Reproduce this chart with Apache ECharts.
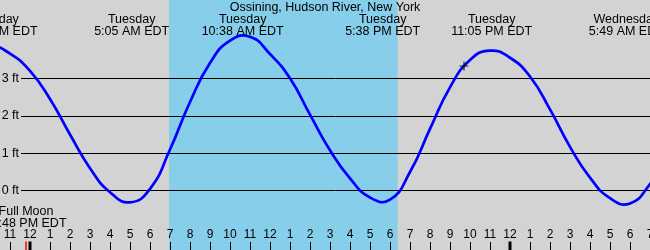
<!DOCTYPE html>
<html><head><meta charset="utf-8">
<script src="https://cdn.jsdelivr.net/npm/echarts@6/dist/echarts.min.js"></script>
<style>html,body{margin:0;padding:0;background:#d3d3d3}#c{width:650px;height:250px}</style>
</head><body><div id="c"></div>
<script>
// ---- data (hours measured from Tuesday 00:00 EDT) ----
const chartTitle = 'Ossining, Hudson River, New York';
const tideHours = [-3,-2,-1,0,1,2,3,4,5,6,7,8,9,10,11,12,13,14,15,16,17,18,19,20,21,22,23,24,25,26,27,28,29,30,31,32];
const tideFeet  = [3.76,3.88,3.66,3.2,2.45,1.5,0.6,-0.04,-0.31,0.05,1.1,2.37,3.41,4.01,4.11,3.65,3.0,2.03,1.08,0.33,-0.18,-0.24,0.5,1.65,2.76,3.49,3.74,3.55,3.05,2.17,1.17,0.35,-0.2,-0.34,0.18,1.0];
const eventHours = [-1.67, 5.083, 10.633, 17.633, 23.083, 29.817];
const eventDays  = ['Monday','Tuesday','Tuesday','Tuesday','Tuesday','Wednesday'];
const eventTimes = ['10:20 PM EDT','5:05 AM EDT','10:38 AM EDT','5:38 PM EDT','11:05 PM EDT','5:49 AM EDT'];
const sunrise = 6.95, sunset = 18.38;
const hourTicks  = [-1,0,1,2,3,4,5,6,7,8,9,10,11,12,13,14,15,16,17,18,19,20,21,22,23,24,25,26,27,28,29,30,31];
const hourLabels = ['11','12','1','2','3','4','5','6','7','8','9','10','11','12','1','2','3','4','5','6','7','8','9','10','11','12','1','2','3','4','5','6','7'];
const midnightHours = [0, 24];
const moonHour = -0.2;
const moonLines = ['Full Moon', '11:48 PM EDT'];
const feetLevels = [0, 1, 2, 3];
const feetLabels = ['0 ft', '1 ft', '2 ft', '3 ft'];
const nowHour = 21.7, nowFeet = 3.33;

// ---- chart ----
const FONT = 'Liberation Sans';
const FS = 12.5;
const chart = echarts.init(document.getElementById('c'), null, {renderer: 'canvas'});
const lineStartHour = -0.45;
const option = {
  animation: false,
  backgroundColor: '#d3d3d3',
  textStyle: {fontFamily: FONT},
  title: {text: chartTitle, left: 'center', top: 1, padding: 0,
    textStyle: {fontSize: FS, fontWeight: 'normal', color: '#000', fontFamily: FONT}},
  grid: {left: 0, right: 0, top: 0, bottom: 0, containLabel: false, outerBoundsMode: 'none'},
  xAxis: {type: 'value', min: -1.5, max: 31, z: 10,
    axisLine: {show: false, onZero: false}, splitLine: {show: false},
    axisTick: {show: true, inside: true, length: 8, customValues: hourTicks, lineStyle: {color: '#000', width: 1}},
    axisLabel: {show: true, inside: true, margin: 9, customValues: hourTicks, hideOverlap: false,
      showMinLabel: true, showMaxLabel: true,
      color: '#000', fontSize: 12, fontFamily: FONT,
      formatter: v => hourLabels[hourTicks.indexOf(v)]}},
  yAxis: {type: 'value', min: -1.583, max: 5.092, show: false},
  series: [
    {type: 'line', data: [], z: 1, silent: true,
      markArea: {silent: true, itemStyle: {color: '#87ceeb', opacity: 1},
        data: [[{xAxis: sunrise}, {xAxis: sunset}]]},
      markLine: {silent: true, symbol: ['none', 'none'],
        lineStyle: {color: '#000', width: 1, type: 'solid'},
        label: {show: true, position: 'start', distance: 2, formatter: '{b}', color: '#000', fontSize: FS, fontFamily: FONT},
        data: feetLevels.map((v, i) => [{coord: [lineStartHour, v], name: feetLabels[i]}, {coord: [31, v]}])}
    },
    // tide curve: smooth spline through the hourly readings, positioned by the axes
    {type: 'custom', z: 5, silent: true, encode: {x: 0, y: 1},
      data: [[tideHours[0], tideFeet[0]]],
      renderItem: (params, api) => {
        const pts = tideHours.map((h, i) => api.coord([h, tideFeet[i]]));
        return {type: 'polyline', shape: {points: pts, smooth: 0.5},
          style: {stroke: '#0000ff', lineWidth: 2.7, fill: null}};
      }},
    {type: 'scatter', z: 6, silent: true, symbol: 'path://M0,4.5L9,4.5M4.5,0L4.5,9', symbolSize: 9,
      itemStyle: {color: 'none', borderColor: '#000', borderWidth: 1.2},
      data: [[nowHour, nowFeet]]},
    {type: 'custom', z: 7, silent: true, encode: {x: 0, y: 1},
      data: eventHours.map((h, i) => [h, i]),
      renderItem: (params, api) => {
        const i = api.value(1);
        const x = api.coord([api.value(0), 0])[0];
        const st = {x, fill: '#000', fontSize: FS, fontFamily: FONT, align: 'center', verticalAlign: 'middle'};
        return {type: 'group', children: [
          {type: 'text', style: Object.assign({}, st, {text: eventDays[i], y: 19.8})},
          {type: 'text', style: Object.assign({}, st, {text: eventTimes[i], y: 31.8})}
        ]};
      }},
    {type: 'custom', z: 7, silent: true, encode: {x: 0, y: 1},
      data: [[moonHour, 0]],
      renderItem: (params, api) => {
        const x = api.coord([api.value(0), 0])[0];
        const st = {x, fill: '#000', fontSize: FS, fontFamily: FONT, align: 'center', verticalAlign: 'middle'};
        const bottom = params.coordSys.y + params.coordSys.height;
        return {type: 'group', children: [
          {type: 'text', style: Object.assign({}, st, {text: moonLines[0], y: 211.4})},
          {type: 'text', style: Object.assign({}, st, {text: moonLines[1], y: 223.7})},
          {type: 'rect', shape: {x: x - 0.75, y: bottom - 8.5, width: 1.5, height: 8.5}, style: {fill: '#ff0000'}}
        ]};
      }},
    {type: 'custom', z: 8, silent: true, encode: {x: 0, y: 1},
      data: midnightHours.map(h => [h, 0]),
      renderItem: (params, api) => {
        const x = api.coord([api.value(0), 0])[0];
        const bottom = params.coordSys.y + params.coordSys.height;
        return {type: 'rect', shape: {x: x - 1.5, y: bottom - 8.5, width: 3, height: 8.5}, style: {fill: '#000'}};
      }}
  ]
};
chart.setOption(option);
</script>
</body></html>
